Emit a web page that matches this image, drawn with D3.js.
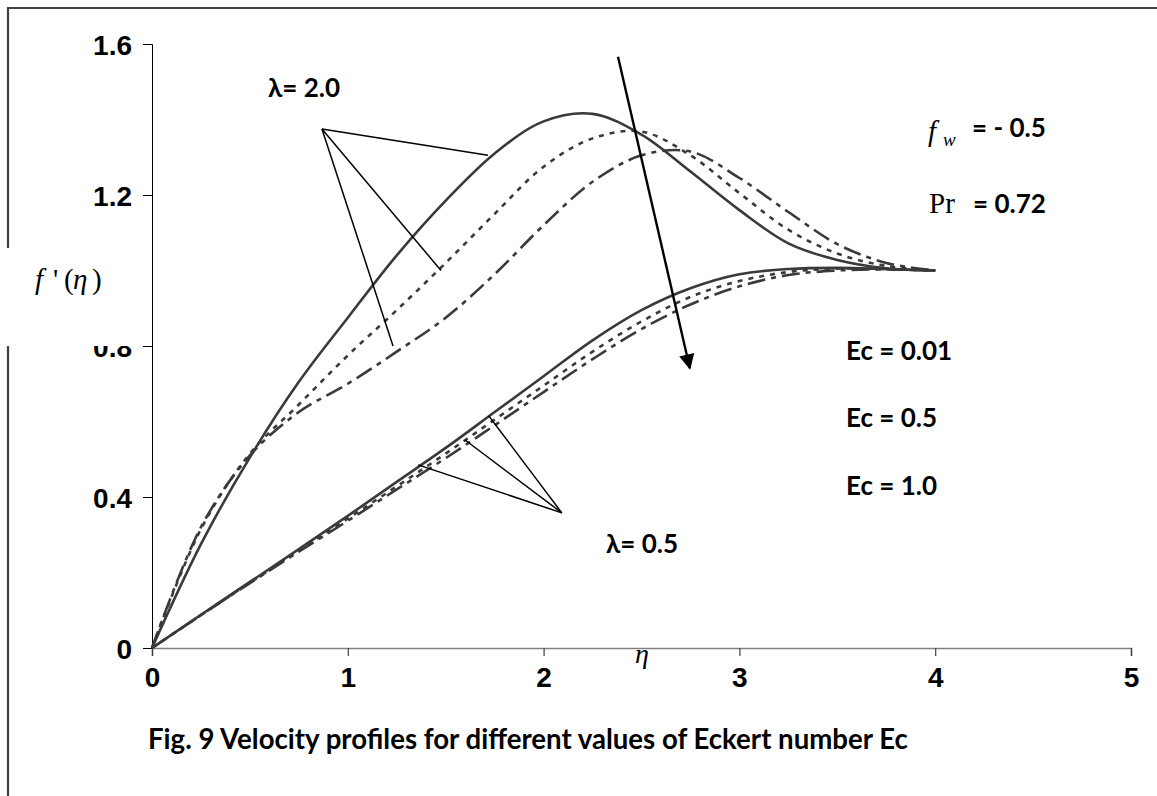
<!DOCTYPE html>
<html>
<head>
<meta charset="utf-8">
<script src="https://cdn.jsdelivr.net/npm/d3@7/dist/d3.min.js"></script>
<style>
  html, body { margin: 0; padding: 0; background: #fff; }
  svg { display: block; }
</style>
</head>
<body>
<svg id="chart" width="1157" height="796"></svg>
<script>
// Similarity variable grid shared by every profile
const eta = [0, 0.25, 0.5, 0.75, 1.0, 1.25, 1.5, 1.75, 2.0, 2.25, 2.5, 2.75, 3.0, 3.25, 3.5, 3.75, 4.0];

// Velocity profiles f'(eta), lambda = 2.0
const lam2_Ec001 = [0, 0.275, 0.505, 0.705, 0.875, 1.04, 1.185, 1.31, 1.395, 1.415, 1.36, 1.262, 1.16, 1.072, 1.028, 1.006, 1.0];
const lam2_Ec05  = [0, 0.315, 0.515, 0.645, 0.775, 0.895, 1.02, 1.15, 1.275, 1.35, 1.368, 1.305, 1.205, 1.108, 1.045, 1.012, 1.0];
const lam2_Ec10  = [0, 0.32, 0.51, 0.625, 0.70, 0.785, 0.875, 0.99, 1.12, 1.235, 1.305, 1.315, 1.245, 1.155, 1.07, 1.02, 1.0];

// Velocity profiles f'(eta), lambda = 0.5
const lam05_Ec001 = [0, 0.088, 0.175, 0.262, 0.35, 0.44, 0.53, 0.625, 0.72, 0.815, 0.895, 0.953, 0.99, 1.004, 1.007, 1.004, 1.0];
const lam05_Ec05  = [0, 0.087, 0.173, 0.258, 0.343, 0.428, 0.515, 0.605, 0.695, 0.785, 0.865, 0.93, 0.972, 0.996, 1.005, 1.004, 1.0];
const lam05_Ec10  = [0, 0.087, 0.172, 0.255, 0.337, 0.42, 0.503, 0.59, 0.678, 0.765, 0.845, 0.91, 0.958, 0.988, 1.0, 1.003, 1.0];

// Axis ticks
const xTicks = [0, 1, 2, 3, 4, 5];
const yTicks = [0, 0.4, 0.8, 1.2, 1.6];
const yTickLabels = ["0", "0.4", "0.8", "1.2", "1.6"];

// Eckert number labels
const ecLabels = ["Ec = 0.01", "Ec = 0.5", "Ec = 1.0"];

// Pointer lines (data units): common vertex, then the ends on the curves
const lam2Vertex = [0.868, 1.375];
const lam2Ends = [[1.716, 1.305], [1.476, 1.0], [1.231, 0.8]];
const lam05Vertex = [2.093, 0.358];
const lam05Ends = [[1.359, 0.485], [1.599, 0.551], [1.72, 0.615]];
// Arrow showing the direction of increasing Ec
const arrowFrom = [2.38, 1.566];
const arrowTo = [2.747, 0.741];

const svg = d3.select("#chart");
const x = d3.scaleLinear().domain([0, 5]).range([152, 1131]);
const y = d3.scaleLinear().domain([0, 1.6]).range([648, 44]);

const serif = "'Liberation Serif', 'Times New Roman', serif";
const calibri = "Lato, 'Noto Sans', sans-serif";
const arial = "'Liberation Sans', Arial, sans-serif";

// Outer frame
svg.append("path").attr("d", "M8,796 L8,8 L1157,8")
  .attr("stroke", "#404040").attr("stroke-width", 2.2).attr("fill", "none");

// y axis
const yAxis = d3.axisLeft(y).tickValues(yTicks).tickSize(9).tickPadding(11)
  .tickFormat((d, i) => yTickLabels[i]);
const gy = svg.append("g").attr("transform", `translate(${x(0)},0)`).call(yAxis);
gy.select(".domain").attr("stroke", "#000").attr("stroke-width", 1);
gy.selectAll(".tick line").attr("stroke", "#000").attr("stroke-width", 1);
gy.selectAll(".tick text").attr("font-family", arial).attr("font-weight", "bold")
  .attr("font-size", 28).attr("fill", "#000").attr("dy", "0.36em");

// x axis
const xAxis = d3.axisBottom(x).tickValues(xTicks).tickSize(8).tickPadding(16).tickFormat(d3.format("d"));
const gx = svg.append("g").attr("transform", `translate(0,${y(0)})`).call(xAxis);
gx.select(".domain").attr("stroke", "#808080").attr("stroke-width", 1.6);
gx.selectAll(".tick line").attr("stroke", "#404040").attr("stroke-width", 1.2);
gx.selectAll(".tick text").attr("font-family", arial).attr("font-weight", "bold")
  .attr("font-size", 28).attr("fill", "#000").attr("dy", "0.55em");

// Profiles
const line = d3.line().x((d, i) => x(eta[i])).y(d => y(d)).curve(d3.curveCatmullRom.alpha(0.5));
const dashes = [null, "5,6", "18,6,5,6"];
const groups = [
  [lam2_Ec001, lam2_Ec05, lam2_Ec10],
  [lam05_Ec001, lam05_Ec05, lam05_Ec10]
];
groups.forEach(g => g.forEach((vals, k) => {
  svg.append("path").datum(vals).attr("d", line)
    .attr("fill", "none").attr("stroke", "#3a3a3a").attr("stroke-width", 2.6)
    .attr("stroke-dasharray", dashes[k]);
}));

// Pointer lines
function pointers(vertex, ends) {
  ends.forEach(e => {
    svg.append("line")
      .attr("x1", x(vertex[0])).attr("y1", y(vertex[1]))
      .attr("x2", x(e[0])).attr("y2", y(e[1]))
      .attr("stroke", "#000").attr("stroke-width", 1.5);
  });
}
pointers(lam2Vertex, lam2Ends);
pointers(lam05Vertex, lam05Ends);

// Arrow
svg.append("defs").append("marker")
  .attr("id", "head").attr("viewBox", "0 0 10 10").attr("refX", 9).attr("refY", 5)
  .attr("markerWidth", 6.8).attr("markerHeight", 6.4).attr("markerUnits", "strokeWidth")
  .attr("orient", "auto")
  .append("path").attr("d", "M0,0 L10,5 L0,10 Z").attr("fill", "#000");
svg.append("line")
  .attr("x1", x(arrowFrom[0])).attr("y1", y(arrowFrom[1]))
  .attr("x2", x(arrowTo[0])).attr("y2", y(arrowTo[1]))
  .attr("stroke", "#000").attr("stroke-width", 2.4).attr("marker-end", "url(#head)");

// Text annotations
function boldText(t, px, py, size) {
  return svg.append("text").attr("x", px).attr("y", py).text(t)
    .attr("font-family", calibri).attr("font-weight", "bold").attr("font-size", size).attr("fill", "#000");
}
boldText("λ= 2.0", 268, 97, 26);
boldText("λ= 0.5", 606, 553, 26);
ecLabels.forEach((t, i) => boldText(t, 846, [360, 427, 495][i], 26));

// f_w = -0.5
svg.append("text").attr("x", 928).attr("y", 141).text("f")
  .attr("font-family", serif).attr("font-style", "italic").attr("font-size", 29).attr("fill", "#000");
svg.append("text").attr("x", 943).attr("y", 146).text("w")
  .attr("font-family", serif).attr("font-style", "italic").attr("font-size", 19).attr("fill", "#000");
boldText("= - 0.5", 972, 137, 26);

// Pr = 0.72
svg.append("text").attr("x", 929).attr("y", 213).text("Pr")
  .attr("font-family", serif).attr("font-size", 29).attr("fill", "#000");
boldText("= 0.72", 973, 213, 26);

// Backing box of the y title (hides the frame and the top of "0.8")
svg.append("rect").attr("x", 0).attr("y", 248).attr("width", 140).attr("height", 98).attr("fill", "#fff");

// Axis titles
const yParts = [["f", 35, "italic"], ["'", 53, "normal"], ["(", 64, "normal"], ["η", 73, "italic"], [")", 92, "normal"]];
yParts.forEach(p => {
  svg.append("text").attr("x", p[1]).attr("y", 289).text(p[0])
    .attr("font-family", serif).attr("font-style", p[2]).attr("font-size", 29).attr("fill", "#000");
});

svg.append("text").attr("x", 642).attr("y", 663).text("η").attr("text-anchor", "middle")
  .attr("font-family", serif).attr("font-style", "italic").attr("font-size", 28).attr("fill", "#000");

// Caption
boldText("Fig. 9 Velocity profiles for different values of Eckert number Ec", 148, 749, 27.6);
</script>
</body>
</html>
